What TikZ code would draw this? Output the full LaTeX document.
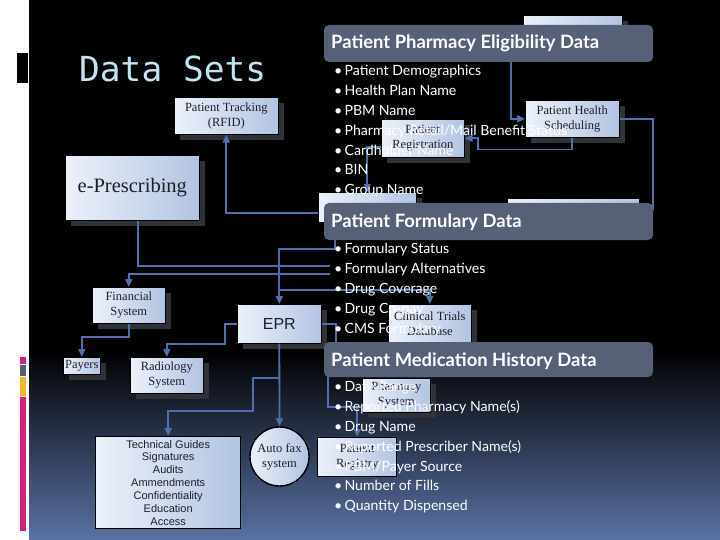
\documentclass[tikz,border=0pt]{standalone}
\usepackage{fontspec}
\setmainfont{Liberation Serif}
\newfontfamily\arialf{Liberation Sans}
\newfontfamily\monof{DejaVu Sans Mono}
\newfontfamily\bulf{Lato}
\usetikzlibrary{arrows.meta,shadows}
\definecolor{bannerc}{RGB}{86,96,118}
\definecolor{boxl}{RGB}{236,241,250}
\definecolor{boxr}{RGB}{178,196,226}
\definecolor{boxtext}{RGB}{30,30,40}
\definecolor{shadc}{RGB}{48,50,56}
\definecolor{linec}{RGB}{78,112,176}
\definecolor{titlec}{RGB}{190,230,242}
\definecolor{bgbot}{RGB}{90,114,165}
\definecolor{pinkc}{RGB}{222,28,126}
\definecolor{grayc}{RGB}{85,95,112}
\definecolor{orangec}{RGB}{246,186,32}
\begin{document}
\begin{tikzpicture}[x=1pt,y=-1pt,
  dbox/.style={rectangle, draw=black, line width=0.6pt, left color=boxl, right color=boxr,
    text=boxtext, align=center, inner sep=1pt, font=\fontsize{12.5}{15}\selectfont, anchor=north west},
  shad/.style={drop shadow={shadow xshift=6pt, shadow yshift=-6pt, fill=shadc, opacity=1}},
  obox/.style={dbox, draw=black, line width=1.4pt},
  conn/.style={draw=linec, line width=1.8pt},
  arr/.style={-{Triangle[length=8pt,width=7pt]}},
  banner/.style={fill=bannerc, rounded corners=5pt},
  btitle/.style={anchor=base west, text=white, font=\bulf\bfseries\fontsize{18.4}{20}\selectfont, inner sep=0pt},
  bul/.style={anchor=base west, text=white, font=\bulf\fontsize{14.1}{16}\selectfont, inner sep=0pt}]
\useasboundingbox (0,0) rectangle (720,540);
% background
\fill[white] (0,0) rectangle (29,540);
\fill[black] (29,0) rectangle (720,351);
\shade[top color=black, bottom color=bgbot] (29,350) rectangle (720,540);
% left strip bars
\fill[black] (17,53) rectangle (28,83);
\fill[pinkc] (20,357) rectangle (26,364);
\fill[grayc] (20,365) rectangle (26,376);
\fill[orangec] (20,377) rectangle (26,396);
\fill[pinkc] (20,397) rectangle (26,531);
% title
\node[anchor=base west, text=titlec, font=\monof\fontsize{34.5}{36}\selectfont, inner sep=0pt] (title) at (79,82) {Data Sets};
% boxes
\node[dbox, shad, minimum width=99pt, minimum height=32pt] (topbox) at (523,15) {};
\node[dbox, shad, minimum width=104pt, minimum height=37pt] (track) at (174,97) {Patient Tracking\\(RFID)};
\node[dbox, shad, minimum width=94pt, minimum height=37pt] (sched) at (525,100) {Patient Health\\Scheduling};
\node[dbox, shad, minimum width=83pt, minimum height=38pt] (reg) at (381,119) {Patient\\Registration};
\node[dbox, shad, minimum width=134pt, minimum height=65pt, font=\fontsize{20.5}{24}\selectfont] (escr) at (65,155) {e-Prescribing};
\node[dbox, shad, minimum width=98pt, minimum height=30pt] (chkin) at (318,192) {};
\node[dbox, shad, minimum width=132pt, minimum height=22pt] (rbox) at (507,198) {};
\node[dbox, shad, minimum width=73pt, minimum height=36pt] (fin) at (92,287) {Financial\\System};
\node[dbox, shad, minimum width=84pt, minimum height=39pt, font=\arialf\fontsize{16}{18}\selectfont] (epr) at (237,304) {EPR};
\node[dbox, shad, minimum width=83pt, minimum height=38pt] (clin) at (388,304) {Clinical Trials\\Database};
\node[dbox, shad, minimum width=37pt, minimum height=17pt] (payers) at (63,357) {Payers};
\node[dbox, shad, minimum width=73pt, minimum height=36pt] (rad) at (130,357) {Radiology\\System};
\node[dbox, shad, minimum width=68pt, minimum height=34pt] (pharm) at (362,378) {Pharmacy\\System};
\node[obox, minimum width=79pt, minimum height=39pt] (registry) at (317,437) {Patient\\Registry};
\node[obox, circle, anchor=center, minimum size=59pt, inner sep=0pt] (fax) at (279.5,456.5) {Auto fax\\system};
\node[obox, minimum width=145pt, minimum height=92pt, font=\arialf\fontsize{11}{12.83}\selectfont] (tech) at (95,436)
  {Technical Guides\\Signatures\\Audits\\Ammendments\\Confidentiality\\Education\\Access};
% connectors
\coordinate (j1) at (330,266);
\coordinate (j2) at (330,274);
\draw[conn, arr] (topbox.west) -- ++(-12,0) |- (sched.west);
\draw[conn, arr] (sched.south) -- ++(0,12) -| ([xshift=13pt]reg.east) -- (reg.east);
\draw[conn] (sched.east) -- ++(33,0) |- (rbox.east);
\draw[conn, arr] ([yshift=-9pt]reg.west) -| (chkin.north);
\draw[conn, arr] ([yshift=-6pt]chkin.west) -| (track.south);
\draw[conn] ([xshift=5.5pt]escr.south) |- (j1);
\draw[conn, arr] (j2) -| (fin.north);
\draw[conn, arr] ([xshift=-32pt]chkin.south) -- ++(0,26) -| (epr.north);
\draw[conn, arr] ([yshift=14pt]epr.north) -| (clin.north);
\draw[conn, arr] (fin.south) -- ++(0,13) -| (payers.north);
\draw[conn, arr] (epr.west) -- ++(-12,0) -- ++(0,20) -| (rad.north);
\draw[conn, arr] (epr.south) -- (fax.north);
\draw[conn, arr] ([yshift=-34pt]epr.south) -- ++(-26,0) -- ++(0,33) -| (tech.north);
\draw[conn] (epr.east) -- ++(14,0) -- ++(0,37) -- ++(-8,0) |- ([yshift=-12pt]pharm.west);
\draw[conn, arr] ([yshift=-12pt]pharm.west) -| (registry.north);
% banners and bullet lists
\fill[banner] (324,25) rectangle (653,62);
\fill[banner] (324,203) rectangle (653,240);
\fill[banner] (324,342) rectangle (653,377);
\node[btitle] (t1) at (331,48.5) {Patient Pharmacy Eligibility Data};
\node[btitle] (t2) at (331,227.5) {Patient Formulary Data};
\node[btitle] (t3) at (331,366.5) {Patient Medication History Data};
\foreach \t [count=\i] in {Patient Demographics, Health Plan Name, PBM Name, Pharmacy Retail/Mail Benefit Status, Cardholder Name, BIN, Group Name}
  \node[bul] (ea\i) at (334,{56.1+\i*19.8}) {•\hspace{2.2pt}\t};
\foreach \t [count=\i] in {Formulary Status, Formulary Alternatives, Drug Coverage, Drug Co-pay, CMS Formulary}
  \node[bul] (eb\i) at (334,{233.8+\i*20}) {•\hspace{2.2pt}\t};
\foreach \t [count=\i] in {Date Range, Reported Pharmacy Name(s), Drug Name, Reported Prescriber Name(s), PBM/Payer Source, Number of Fills, Quantity Dispensed}
  \node[bul] (ec\i) at (334,{372+\i*19.8}) {•\hspace{2.2pt}\t};
\end{tikzpicture}
\end{document}
